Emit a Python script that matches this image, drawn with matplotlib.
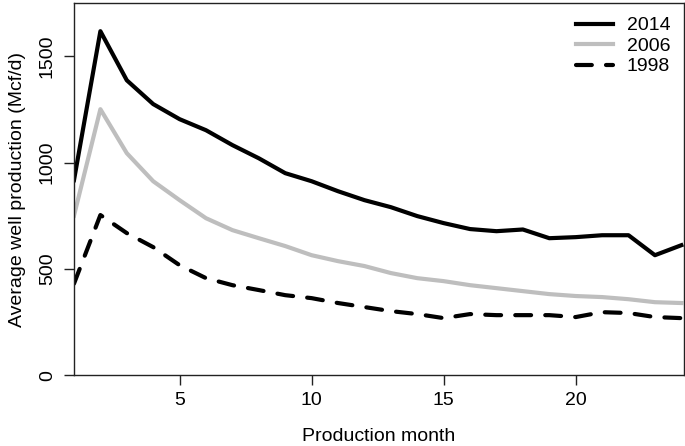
import matplotlib
matplotlib.use("Agg")
import matplotlib.pyplot as plt

plt.rcParams['font.family'] = ['Liberation Sans', 'DejaVu Sans']

months = list(range(1, 25))
prod_2014 = [917, 1618, 1387, 1275, 1204, 1152, 1082, 1020, 950, 912, 865, 823,
             790, 748, 715, 687, 677, 685, 644, 649, 658, 658, 564, 611]
prod_2006 = [750, 1251, 1044, 912, 823, 738, 682, 644, 607, 564, 536, 513,
             480, 456, 442, 423, 409, 395, 381, 372, 367, 357, 343, 339]
prod_1998 = [430, 753, 668, 602, 517, 456, 423, 400, 376, 362, 339, 320,
             301, 287, 268, 287, 282, 282, 282, 273, 296, 292, 273, 268]

fig = plt.figure(figsize=(6.85, 4.46), dpi=100)
ax = fig.add_axes([0.108, 0.159, 0.8905, 0.834])

ax.plot(months, prod_2014, color='black', lw=3, label='2014')
ax.plot(months, prod_2006, color='#bebebe', lw=3, label='2006')
ax.plot(months, prod_1998, color='black', lw=3, dashes=(3.8, 3.4),
        dash_capstyle='round', label='1998')

ax.set_xlim(1, 24.1)
ax.set_ylim(0, 1750)
ax.set_xticks([5, 10, 15, 20])
ax.set_yticks([0, 500, 1000, 1500])
ax.tick_params(axis='both', labelsize=14, length=7, width=1, color='#222222')
ax.tick_params(axis='x', pad=5)
ax.tick_params(axis='y', pad=6)
for lab in ax.get_yticklabels():
    lab.set_rotation(90)
    lab.set_va('center')
for s in ax.spines.values():
    s.set_color('#222222')
    s.set_linewidth(1)

ax.set_xlabel('Production month', fontsize=14, labelpad=14)
ax.set_ylabel('Average well production (Mcf/d)', fontsize=14, labelpad=9)

# legend: no frame, top right corner
ax.legend(loc='upper right', frameon=False, fontsize=14, handlelength=1.9,
          handletextpad=0.7, borderaxespad=0.2, labelspacing=0.15,
          borderpad=0.5)

fig.savefig('out.png', dpi=100)
